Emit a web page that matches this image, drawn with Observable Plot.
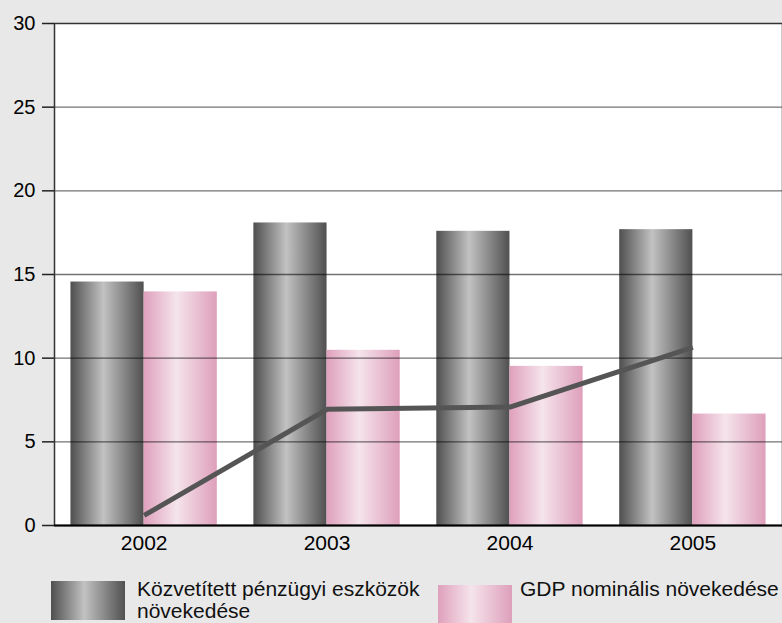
<!DOCTYPE html>
<html>
<head>
<meta charset="utf-8">
<script src="https://cdn.jsdelivr.net/npm/d3@7"></script>
<script src="https://cdn.jsdelivr.net/npm/@observablehq/plot@0.6"></script>
<style>
  html, body { margin: 0; padding: 0; background: #e8e8e8; }
  body { width: 782px; height: 623px; position: relative; overflow: hidden; font-family: "Liberation Sans", Arial, sans-serif; }
  #chart { position: absolute; left: 0; top: 0; }
  .sw { position: absolute; }
  .lt { position: absolute; font-size: 21px; line-height: 22px; color: #111; white-space: nowrap; }
</style>
</head>
<body>
<div id="chart"></div>
<div class="sw" id="sw1" style="left:51px;top:581px;width:74px;height:39px;"></div>
<div class="lt" id="lt1" style="left:137px;top:578px;"></div>
<div class="sw" id="sw2" style="left:438px;top:585px;width:74px;height:40px;"></div>
<div class="lt" id="lt2" style="left:520px;top:578px;"></div>
<script>
const years = ["2002", "2003", "2004", "2005"];
const assetGrowth = [14.55, 18.08, 17.58, 17.68];   // Közvetített pénzügyi eszközök növekedése
const gdpGrowth = [13.96, 10.47, 9.51, 6.66];        // GDP nominális növekedése
const lineValues = [0.6, 6.94, 7.08, 10.65];
const yTicks = [0, 5, 10, 15, 20, 25, 30];
const seriesNames = ["Közvetített pénzügyi eszközök\nnövekedése", "GDP nominális növekedése"];

const rows = years.map((y, i) => ({i, year: y, asset: assetGrowth[i], gdp: gdpGrowth[i], line: lineValues[i]}));
const half = 0.4;

const plot = Plot.plot({
  width: 782,
  height: 565,
  marginLeft: 54,
  marginRight: 0,
  marginTop: 23,
  marginBottom: 40,
  style: {background: "transparent", fontFamily: "'Liberation Sans', Arial, sans-serif", fontSize: "20px", color: "#000"},
  x: {domain: [-0.49, 3.49]},
  y: {domain: [0, 30]},
  marks: [
    Plot.frame({fill: "white", stroke: null}),
    Plot.rectY(rows, {x1: d => d.i - half, x2: d => d.i, y1: 0, y2: "asset", fill: "url(#gGrey)", inset: 0}),
    Plot.rectY(rows, {x1: d => d.i, x2: d => d.i + half, y1: 0, y2: "gdp", fill: "url(#gPink)", inset: 0}),
    Plot.ruleY(yTicks.filter(t => t > 0 && t < 30), {stroke: "#000", strokeOpacity: 0.55, strokeWidth: 1.4}),
    Plot.lineY(rows, {x: "i", y: "line", stroke: "#555", strokeWidth: 5, strokeLinecap: "butt"}),
    Plot.frame({stroke: "#333", strokeWidth: 1.5}),
    Plot.ruleY([0], {stroke: "#000", strokeWidth: 2}),
    Plot.axisY({ticks: yTicks, tickSize: 12, tickPadding: 7, label: null, fontSize: 20, stroke: "#222", strokeWidth: 1.5}),
    Plot.axisX({ticks: years.map((_, i) => i), tickFormat: i => years[i], tickSize: 0, tickPadding: 10, label: null, fontSize: 21})
  ]
});

const svg = d3.select(plot);
const defs = svg.insert("defs", ":first-child");
const g1 = defs.append("linearGradient").attr("id", "gGrey").attr("x1", 0).attr("x2", 1).attr("y1", 0).attr("y2", 0);
[[0, "#4f4f4f"], [0.45, "#c2c2c2"], [1, "#505050"]].forEach(([o, c]) => g1.append("stop").attr("offset", o).attr("stop-color", c));
const g2 = defs.append("linearGradient").attr("id", "gPink").attr("x1", 0).attr("x2", 1).attr("y1", 0).attr("y2", 0);
[[0, "#dfa0bc"], [0.45, "#f5e4eb"], [1, "#de9fbb"]].forEach(([o, c]) => g2.append("stop").attr("offset", o).attr("stop-color", c));

document.getElementById("chart").appendChild(plot);
document.getElementById("sw1").style.background = "linear-gradient(to right, #4f4f4f 0%, #c2c2c2 45%, #505050 100%)";
document.getElementById("sw2").style.background = "linear-gradient(to right, #dfa0bc 0%, #f5e4eb 45%, #de9fbb 100%)";
document.getElementById("lt1").innerHTML = seriesNames[0].replace("\n", "<br>");
document.getElementById("lt2").textContent = seriesNames[1];
</script>
</body>
</html>
